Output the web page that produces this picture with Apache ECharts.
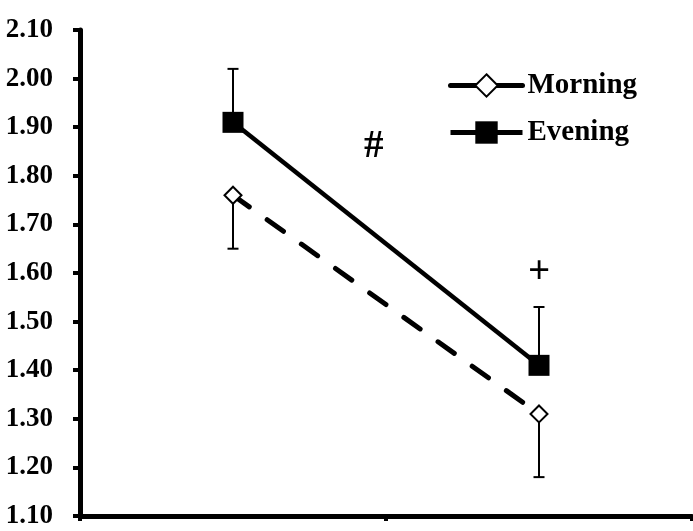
<!DOCTYPE html>
<html>
<head>
<meta charset="utf-8">
<script src="https://cdn.jsdelivr.net/npm/echarts@6/dist/echarts.min.js"></script>
<style>
  html, body { margin: 0; padding: 0; background: #fff; }
  #chart { width: 693px; height: 531px; }
</style>
</head>
<body>
<div id="chart"></div>
<script>
// Two time points, two sessions
const categories = ['Pre', 'Post'];
const morningMean = [1.76, 1.31];
const morningLow = [1.65, 1.18];   // lower end of Morning error bar
const eveningMean = [1.91, 1.41];
const eveningHigh = [2.02, 1.53];  // upper end of Evening error bar
const yTicks = { min: 1.1, max: 2.1, step: 0.1 };

// Significance markers: position given as category index (fractional) and value
const markText = ['#', '+'];
const markCat = [0.46, 1];
const markVal = [1.86, 1.60];

const FONT = '"Liberation Serif", "Times New Roman", serif';

const chart = echarts.init(document.getElementById('chart'));

function errorBar(params, api) {
  const x = api.value(0);
  const from = api.coord([x, api.value(1)]);
  const to = api.coord([x, api.value(2)]);
  const half = 5.5;
  const style = { stroke: '#000', lineWidth: 2 };
  return {
    type: 'group',
    children: [
      { type: 'line', shape: { x1: from[0], y1: from[1], x2: to[0], y2: to[1] }, style },
      { type: 'line', shape: { x1: to[0] - half, y1: to[1], x2: to[0] + half, y2: to[1] }, style }
    ]
  };
}

chart.setOption({
  animation: false,
  backgroundColor: '#fff',
  grid: { left: 80, right: 1, top: 30, bottom: 15 },
  legend: {
    data: ['Morning', 'Evening'],
    orient: 'vertical',
    left: 443,
    top: 66,
    itemWidth: 72,
    itemHeight: 28,
    itemGap: 18,
    lineStyle: { type: 'solid', width: 5 },
    textStyle: { fontFamily: FONT, fontWeight: 'bold', fontSize: 29, color: '#000' }
  },
  xAxis: {
    type: 'category',
    data: categories,
    boundaryGap: true,
    axisLine: { lineStyle: { color: '#000', width: 5 } },
    axisTick: { show: true, length: 5, lineStyle: { color: '#000', width: 4 } },
    axisLabel: { show: false },
    splitLine: { show: false }
  },
  yAxis: {
    type: 'value',
    min: yTicks.min,
    max: yTicks.max,
    interval: yTicks.step,
    axisLine: { show: true, lineStyle: { color: '#000', width: 5 } },
    axisTick: { show: true, length: 7, lineStyle: { color: '#000', width: 4 } },
    splitLine: { show: false },
    axisLabel: {
      margin: 27,
      color: '#000',
      fontFamily: FONT,
      fontWeight: 'bold',
      fontSize: 27,
      formatter: v => v.toFixed(2)
    }
  },
  series: [
    {
      name: 'Morning',
      type: 'line',
      data: morningMean,
      symbol: 'emptyDiamond',
      symbolSize: 17,
      itemStyle: { color: '#000', borderColor: '#000', borderWidth: 2.5 },
      lineStyle: { color: '#000', width: 5, type: [20, 22], cap: 'round' },
      z: 3
    },
    {
      name: 'Evening',
      type: 'line',
      data: eveningMean,
      symbol: 'rect',
      symbolSize: 21,
      itemStyle: { color: '#000' },
      lineStyle: { color: '#000', width: 4.5, type: 'solid' },
      z: 3
    },
    {
      name: 'MorningErr',
      type: 'custom',
      renderItem: errorBar,
      data: morningMean.map((m, i) => [i, m, morningLow[i]]),
      z: 2
    },
    {
      name: 'EveningErr',
      type: 'custom',
      renderItem: errorBar,
      data: eveningMean.map((m, i) => [i, m, eveningHigh[i]]),
      z: 2
    }
  ]
});

// Place the significance symbols in data coordinates
const p0 = chart.convertToPixel({ gridIndex: 0 }, [0, yTicks.min]);
const p1 = chart.convertToPixel({ gridIndex: 0 }, [1, yTicks.min]);
chart.setOption({
  graphic: markText.map((t, i) => {
    const x = p0[0] + markCat[i] * (p1[0] - p0[0]);
    const y = chart.convertToPixel({ yAxisIndex: 0 }, markVal[i]);
    return {
      type: 'text',
      x: x,
      y: y,
      style: {
        text: t,
        font: 'bold 39px ' + FONT,
        fill: '#000',
        align: 'center',
        verticalAlign: 'middle'
      }
    };
  })
});
</script>
</body>
</html>
